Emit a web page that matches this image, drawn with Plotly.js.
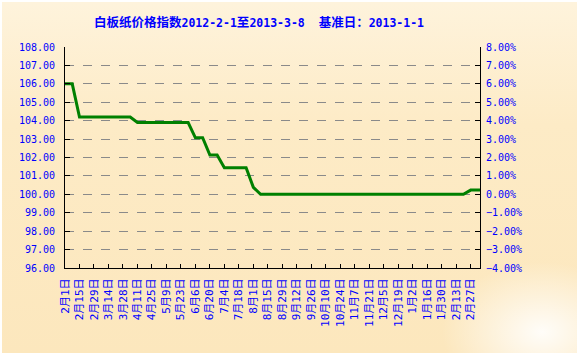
<!DOCTYPE html>
<html><head><meta charset="utf-8">
<script src="https://cdn.plot.ly/plotly-3.0.1.min.js"></script>
<style>
html,body{margin:0;padding:0;background:#fff;}
#bg{position:absolute;left:2px;top:2px;width:575px;height:351px;background:linear-gradient(180deg,#fef3dc 0%,#fdebc6 35%,#fce7bd 100%);}
#glow{position:absolute;left:2px;top:2px;width:575px;height:351px;background:radial-gradient(ellipse 100px 70px at 540px 330px, rgba(255,255,255,0.9), rgba(255,255,255,0));}
#chart{position:absolute;left:0;top:0;width:579px;height:357px;}
</style></head><body>
<div id="bg"></div><div id="glow"></div><div id="chart"></div>
<script>
const titleParts = ["白板纸价格指数", "2012-2-1", "至", "2013-3-8\u00a0\u00a0", "基准日：", "2013-1-1"];
const baseValue = 100;
const dates = [
 "2012-02-01","2012-02-08","2012-02-15","2012-02-22","2012-02-29","2012-03-07","2012-03-14","2012-03-21","2012-03-28",
 "2012-04-04","2012-04-11","2012-04-18","2012-04-25","2012-05-02","2012-05-09","2012-05-16","2012-05-23","2012-05-30",
 "2012-06-06","2012-06-13","2012-06-20","2012-06-27","2012-07-04","2012-07-11","2012-07-18","2012-07-25",
 "2012-08-01","2012-08-08","2012-08-15","2012-08-22","2012-08-29","2012-09-05","2012-09-12","2012-09-19","2012-09-26",
 "2012-10-03","2012-10-10","2012-10-17","2012-10-24","2012-10-31","2012-11-07","2012-11-14","2012-11-21","2012-11-28",
 "2012-12-05","2012-12-12","2012-12-19","2012-12-26","2013-01-02","2013-01-09","2013-01-16","2013-01-23","2013-01-30",
 "2013-02-06","2013-02-13","2013-02-20","2013-02-27","2013-03-06","2013-03-08"
];
const indexValues = [
 106.0,106.0,104.2,104.2,104.2,104.2,104.2,104.2,104.2,
 104.2,103.9,103.9,103.9,103.9,103.9,103.9,103.9,103.9,
 103.07,103.07,102.13,102.13,101.44,101.44,101.44,101.44,
 100.38,100.0,100.0,100.0,100.0,100.0,100.0,100.0,100.0,
 100.0,100.0,100.0,100.0,100.0,100.0,100.0,100.0,100.0,
 100.0,100.0,100.0,100.0,100.0,100.0,100.0,100.0,100.0,
 100.0,100.0,100.0,100.23,100.23,100.23
];
const pctValues = indexValues.map(v => v - baseValue);

const mono = "font-family:'DejaVu Sans Mono';font-size:11.5px;font-weight:bold";
const titleText = titleParts.map(p => /[0-9\-]/.test(p) ? "<span style=\"" + mono + "\">" + p + "</span>" : p).join("");

const yFont = {family: "'DejaVu Sans Mono', 'Noto Sans CJK SC', monospace", size: 10, color: "#0000FF"};
const xFont = {family: "'DejaVu Sans Mono', 'Noto Sans CJK SC', monospace", size: 11, color: "#0000FF"};

const traces = [
 {x: dates, y: indexValues, type: "scatter", mode: "lines", line: {color: "#008000", width: 3}, hoverinfo: "x+y"},
 {x: dates, y: pctValues, type: "scatter", mode: "lines", yaxis: "y2", line: {color: "rgba(0,0,0,0)", width: 0}, hoverinfo: "skip", showlegend: false}
];

const layout = {
 width: 579, height: 357,
 margin: {l: 65, r: 99, t: 47, b: 89},
 paper_bgcolor: "rgba(0,0,0,0)", plot_bgcolor: "rgba(0,0,0,0)",
 showlegend: false,
 title: {text: titleText, font: {family: "'Noto Sans CJK SC', sans-serif", size: 12.5, color: "#0000FF", weight: "bold"},
   x: 259/579, xanchor: "center", xref: "container", y: 1 - 23/357, yref: "container", yanchor: "middle"},
 xaxis: {
   type: "date", range: ["2012-02-01", "2013-03-08"],
   tick0: "2012-02-01", dtick: 14*86400000, tickformat: "%-m月%-d日",
   tickangle: -90, tickfont: xFont, ticklabelstandoff: 5,
   ticks: "inside", ticklen: 4, tickcolor: "#000",
   showline: true, linecolor: "#000", linewidth: 1,
   showgrid: false, zeroline: false
 },
 yaxis: {
   range: [96, 108], dtick: 1, tick0: 96, tickformat: ".2f", tickfont: yFont, ticklabelstandoff: 7,
   ticks: "inside", ticklen: 5, tickcolor: "#000",
   showline: true, linecolor: "#000", linewidth: 1,
   showgrid: true, gridcolor: "#8a8a8a", griddash: "dash", gridwidth: 1, zeroline: false
 },
 yaxis2: {
   overlaying: "y", side: "right", range: [-4, 8], dtick: 1, tick0: -4, tickformat: ".2f", ticksuffix: "%",
   tickfont: yFont, ticklabelstandoff: 3, ticks: "inside", ticklen: 5, tickcolor: "#000",
   showline: true, linecolor: "#000", linewidth: 1, showgrid: false, zeroline: false
 }
};
Plotly.newPlot("chart", traces, layout, {displayModeBar: false, staticPlot: true});
</script>
</body></html>
